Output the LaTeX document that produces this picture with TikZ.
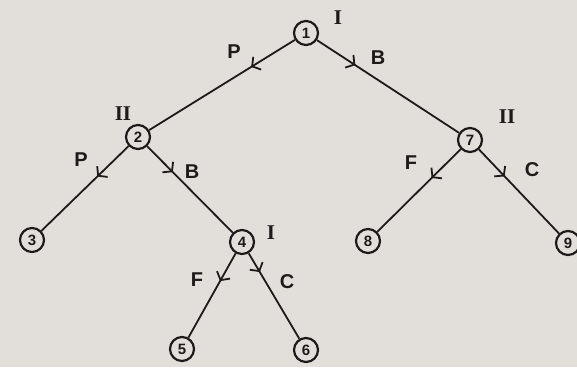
\documentclass[tikz,border=0pt]{standalone}
\usepackage{fontspec}
\setmainfont{Liberation Sans}
\newfontfamily\romfont{Liberation Serif}
\usetikzlibrary{arrows.meta,decorations.markings}
\definecolor{paper}{RGB}{226,223,219}
\definecolor{ink}{RGB}{30,26,26}
\tikzset{
  st/.style={circle,draw=ink,line width=2.2pt,minimum size=24pt,inner sep=0pt,font=\bfseries\fontsize{15}{15}\selectfont,text=ink},
  lbl/.style={font=\bfseries\fontsize{20}{20}\selectfont,text=ink},
  plbl/.style={font=\romfont\bfseries\fontsize{21}{21}\selectfont,text=ink},
  edge/.style={draw=ink,line width=1.8pt,postaction={decorate},
    decoration={markings,mark=at position #1 with {\arrow[ink,line width=1.8pt]{Straight Barb[length=6pt,width=15pt]}}}},
  edge/.default=0.33
}
\begin{document}
\begin{tikzpicture}[x=1pt,y=-1pt]
\fill[paper] (0,0) rectangle (577,367);
\useasboundingbox (0,0) rectangle (577,367);
\node[st] (n1) at (306,33) {1};
\node[st] (n2) at (138,137) {2};
\node[st] (n7) at (470,140) {7};
\node[st] (n3) at (32,240) {3};
\node[st] (n4) at (242,242) {4};
\node[st] (n8) at (368,241) {8};
\node[st] (n9) at (568,243) {9};
\node[st] (n5) at (182,349) {5};
\node[st] (n6) at (306,350) {6};
\draw[edge=0.3] (n1) -- (n2);
\draw[edge=0.27] (n1) -- (n7);
\draw[edge=0.36] (n2) -- (n3);
\draw[edge=0.3] (n2) -- (n4);
\draw[edge=0.35] (n7) -- (n8);
\draw[edge=0.32] (n7) -- (n9);
\draw[edge=0.33] (n4) -- (n5);
\draw[edge=0.22] (n4) -- (n6);
\node[plbl] (l1) at (338,18) {I};
\node[lbl] (p1) at (234,52) {P};
\node[lbl] (b1) at (378,58) {B};
\node[plbl] (l2) at (123,114) {II};
\node[lbl] (p2) at (81,160) {P};
\node[lbl] (b2) at (192,172) {B};
\node[plbl] (l7) at (507,117) {II};
\node[lbl] (f7) at (411,163) {F};
\node[lbl] (c7) at (532,170) {C};
\node[plbl] (l4) at (271,233) {I};
\node[lbl] (f4) at (197,280) {F};
\node[lbl] (c4) at (287,282) {C};
\end{tikzpicture}
\end{document}
